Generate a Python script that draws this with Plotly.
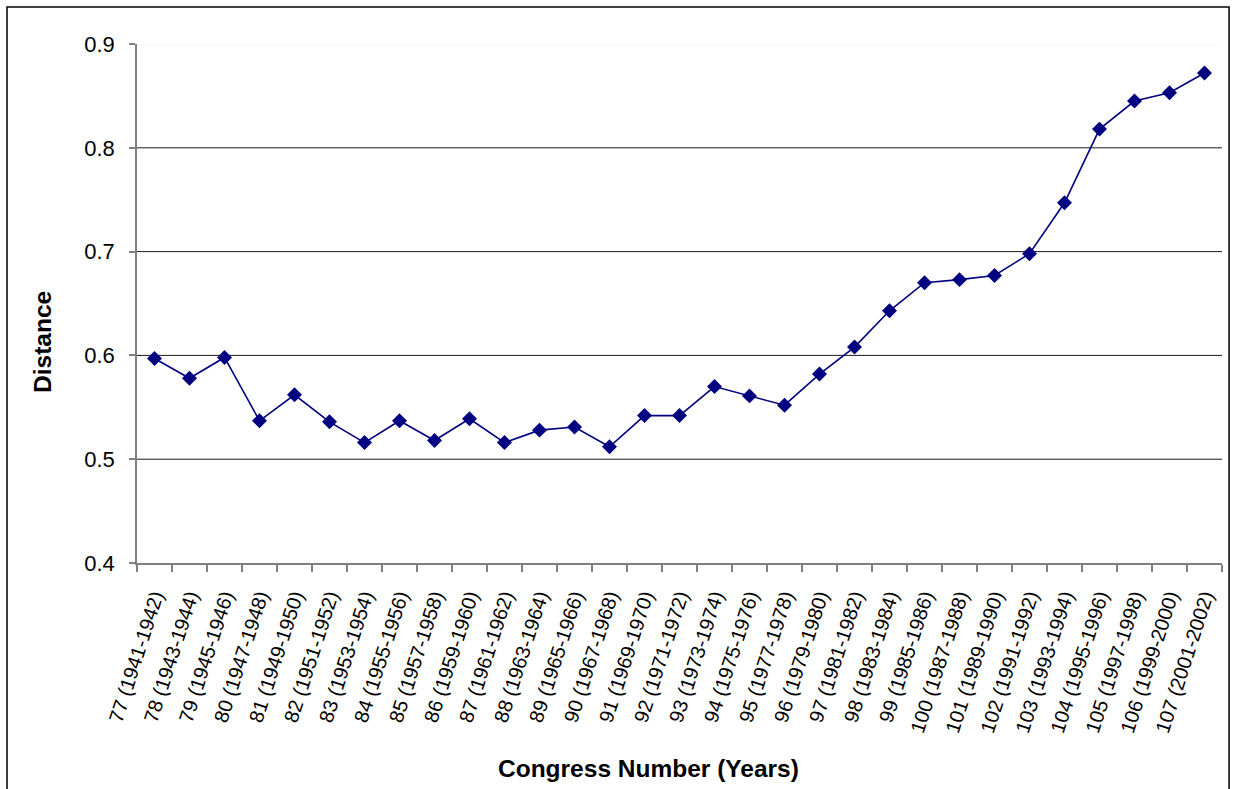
import plotly.graph_objects as go

# Congress sessions and the distance measure for each
congress = list(range(77, 108))
years = [
    "1941-1942", "1943-1944", "1945-1946", "1947-1948", "1949-1950",
    "1951-1952", "1953-1954", "1955-1956", "1957-1958", "1959-1960",
    "1961-1962", "1963-1964", "1965-1966", "1967-1968", "1969-1970",
    "1971-1972", "1973-1974", "1975-1976", "1977-1978", "1979-1980",
    "1981-1982", "1983-1984", "1985-1986", "1987-1988", "1989-1990",
    "1991-1992", "1993-1994", "1995-1996", "1997-1998", "1999-2000",
    "2001-2002",
]
distance = [
    0.597, 0.578, 0.598, 0.537, 0.562, 0.536, 0.516, 0.537, 0.518, 0.539,
    0.516, 0.528, 0.531, 0.512, 0.542, 0.542, 0.570, 0.561, 0.552, 0.582,
    0.608, 0.643, 0.670, 0.673, 0.677, 0.698, 0.747, 0.818, 0.845, 0.853,
    0.872,
]
y_ticks = [0.4, 0.5, 0.6, 0.7, 0.8, 0.9]
grid_levels = [0.5, 0.6, 0.7, 0.8]

labels = [f"{c} ({y})" for c, y in zip(congress, years)]

FONT = "Liberation Sans, Arial, sans-serif"

fig = go.Figure()
fig.add_trace(go.Scatter(
    x=labels, y=distance, mode="lines+markers",
    line=dict(color="#000080", width=1.6),
    marker=dict(symbol="diamond", size=11.5, color="#000080"),
    showlegend=False,
))

shapes = []
for g in grid_levels:
    shapes.append(dict(type="line", xref="paper", yref="y", x0=0, x1=1, y0=g, y1=g,
                       line=dict(color="#1a1a1a", width=1), layer="below"))
shapes.append(dict(type="line", xref="paper", yref="y", x0=0, x1=1, y0=0.9, y1=0.9,
                   line=dict(color="#eeeeee", width=1), layer="below"))
# outer chart frame
shapes.append(dict(type="rect", xref="paper", yref="paper",
                   x0=-0.1198, x1=1.0065, y0=-0.46, y1=1.0713,
                   line=dict(color="black", width=1.5)))

fig.update_layout(
    width=1236, height=789,
    margin=dict(l=137, r=14, t=44, b=226),
    paper_bgcolor="white", plot_bgcolor="white",
    font=dict(family=FONT, color="black"),
    shapes=shapes,
    annotations=[
        dict(text="<b>Distance</b>", xref="paper", yref="paper",
             x=(42 - 137) / 1085, y=(563 - 342) / 519, textangle=-90,
             xanchor="center", yanchor="middle",
             showarrow=False, font=dict(size=24.5, family=FONT)),
        dict(text="<b>Congress Number (Years)</b>", xref="paper", yref="paper",
             x=(648 - 137) / 1085, y=(563 - 768) / 519,
             xanchor="center", yanchor="middle",
             showarrow=False, font=dict(size=24.5, family=FONT)),
    ],
    xaxis=dict(
        type="category", tickangle=-72, tickson="boundaries",
        ticks="outside", ticklen=7, tickcolor="#808080", tickwidth=1.5,
        showline=True, linecolor="#808080", linewidth=1.5,
        showgrid=False, tickfont=dict(size=20, family=FONT),
        ticklabelstandoff=12,
        range=[-0.5, len(labels) - 0.5],
    ),
    yaxis=dict(
        range=[0.4, 0.9], tickvals=y_ticks, ticktext=[f"{v:.1f}" for v in y_ticks],
        ticks="outside", ticklen=6, tickcolor="#808080", tickwidth=1.5,
        showline=True, linecolor="#808080", linewidth=1.5,
        showgrid=False, zeroline=False, ticklabelstandoff=10,
        tickfont=dict(size=22, family=FONT),
    ),
)

fig.write_html("out.html")
